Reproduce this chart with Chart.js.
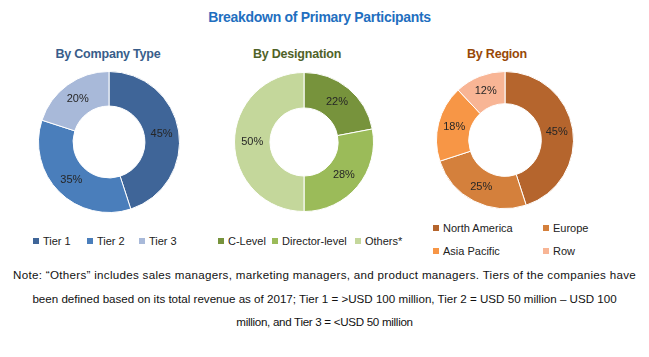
<!DOCTYPE html>
<html><head><meta charset="utf-8">
<script src="https://cdn.jsdelivr.net/npm/chart.js@4/dist/chart.umd.min.js"></script>
<style>
html,body{margin:0;padding:0;background:#fff;}
body{width:649px;height:357px;position:relative;overflow:hidden;font-family:"Liberation Sans",Arial,sans-serif;}
.abs{position:absolute;}
#title{left:-5px;width:649px;top:9px;text-align:center;font:bold 14px "Liberation Sans",sans-serif;color:#1F6FC0;letter-spacing:-0.3px;}
.sub{top:47px;font:bold 12.5px "Liberation Sans",sans-serif;text-align:center;width:200px;letter-spacing:-0.2px;}
.leg{font-size:11px;color:#222;white-space:nowrap;line-height:13px;}
.leg i{display:inline-block;width:6px;height:6px;margin-right:4px;vertical-align:1px;}
#note{left:0;width:649px;top:263px;text-align:center;font-size:11.6px;color:#111;line-height:23.5px;}
canvas{position:absolute;}
</style></head>
<body>
<div id="title" class="abs">Breakdown of Primary Participants</div>
<div class="abs sub" style="left:8px;color:#385D8A">By Company Type</div>
<div class="abs sub" style="left:197px;color:#4F6228">By Designation</div>
<div class="abs sub" style="left:397px;color:#984807">By Region</div>
<canvas id="c1" width="142" height="142" style="left:38px;top:71px"></canvas>
<canvas id="c2" width="140" height="140" style="left:234px;top:72px"></canvas>
<canvas id="c3" width="138" height="138" style="left:436px;top:71px"></canvas>
<div id="legends"></div>
<div id="note" class="abs"><span style="letter-spacing:0.3px">Note: “Others” includes sales managers, marketing managers, and product managers. Tiers of the companies have</span><br><span>been defined based on its total revenue as of 2017; Tier 1 = &gt;USD 100 million, Tier 2 = USD 50 million – USD 100</span><br><span style="letter-spacing:-0.3px">million, and Tier 3 = &lt;USD 50 million</span></div>
<script>
const companyLabels = ["Tier 1", "Tier 2", "Tier 3"];
const companyValues = [45, 35, 20];
const companyColors = ["#3F6598", "#4A7EBB", "#A8B9D9"];

const designationLabels = ["C-Level", "Director-level", "Others*"];
const designationValues = [22, 28, 50];
const designationColors = ["#77933C", "#9BBB59", "#C4D79B"];

const regionLabels = ["North America", "Europe", "Asia Pacific", "Row"];
const regionValues = [45, 25, 18, 12];
const regionColors = ["#B5652D", "#D4803C", "#F79646", "#F8B595"];

const labelPlugin = {
  id: 'sliceLabels',
  afterDatasetsDraw(chart) {
    const ctx = chart.ctx;
    const meta = chart.getDatasetMeta(0);
    const data = chart.data.datasets[0].data;
    ctx.save();
    ctx.font = '11px "Liberation Sans", Arial, sans-serif';
    ctx.fillStyle = '#262626';
    ctx.textAlign = 'center';
    ctx.textBaseline = 'middle';
    meta.data.forEach((arc, i) => {
      const p = arc.tooltipPosition();
      ctx.fillText(data[i] + '%', p.x, p.y);
    });
    ctx.restore();
  }
};

function donut(id, labels, values, colors, cutout) {
  new Chart(document.getElementById(id), {
    type: 'doughnut',
    data: { labels: labels, datasets: [{ data: values, backgroundColor: colors, borderColor: '#ffffff', borderWidth: 1 }] },
    options: {
      responsive: false, animation: false, cutout: cutout,
      layout: { padding: 0 },
      plugins: { legend: { display: false }, tooltip: { enabled: false } }
    },
    plugins: [labelPlugin]
  });
}
donut('c1', companyLabels, companyValues, companyColors, '51%');
donut('c2', designationLabels, designationValues, designationColors, '49%');
donut('c3', regionLabels, regionValues, regionColors, '53%');

function legendItem(label, color, x, y) {
  const d = document.createElement('div');
  d.className = 'abs leg';
  d.style.left = x + 'px';
  d.style.top = y + 'px';
  d.innerHTML = '<i style="background:' + color + '"></i>' + label;
  document.getElementById('legends').appendChild(d);
}
const l1x = [33, 87, 139];
companyLabels.forEach((l, i) => legendItem(l, companyColors[i], l1x[i], 235));
const l2x = [218, 272, 355];
designationLabels.forEach((l, i) => legendItem(l, designationColors[i], l2x[i], 235));
const l3x = [433, 543, 433, 543];
const l3y = [222, 222, 245, 245];
regionLabels.forEach((l, i) => legendItem(l, regionColors[i], l3x[i], l3y[i]));
</script>
</body></html>
